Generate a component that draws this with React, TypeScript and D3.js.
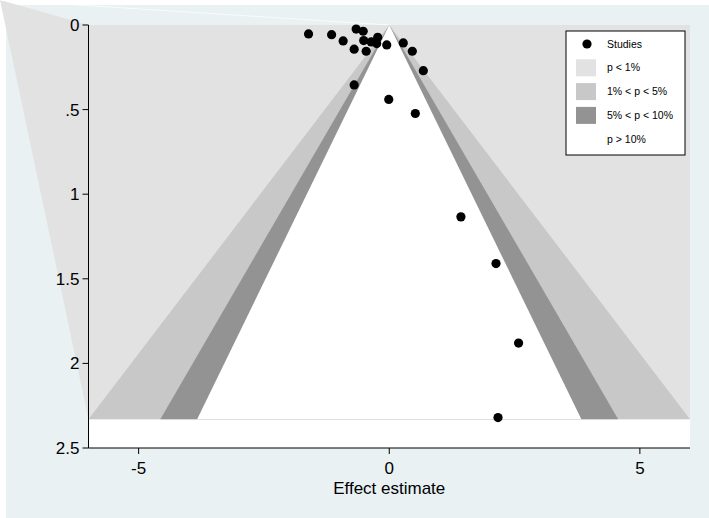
import React from "react";
import * as d3 from "d3";

// Study estimates (effect, standard error)
const effects = [-1.61, -1.15, -0.92, -0.66, -0.52, -0.51, -0.36, -0.23, -0.25, -0.7, -0.46, -0.05, 0.28, 0.46, 0.68, -0.7, -0.01, 0.52, 1.43, 2.13, 2.58, 2.17];
const stdErrors = [0.053, 0.057, 0.094, 0.024, 0.037, 0.092, 0.1, 0.073, 0.11, 0.143, 0.155, 0.118, 0.106, 0.155, 0.27, 0.354, 0.44, 0.523, 1.134, 1.41, 1.88, 2.32];

// Contour z-values (two-sided 1%, 5%, 10%) and max SE of contours
const contourZ = [2.576, 1.96, 1.645];
const contourFill = ["#c8c8c8", "#939393", "#ffffff"];
const maxSE = 2.33;

const xTicks = [-5, 0, 5];
const yTicks = [0, 0.5, 1, 1.5, 2, 2.5];
const yTickLabels = ["0", ".5", "1", "1.5", "2", "2.5"];

const legendItems = [
  { label: "Studies", kind: "dot", color: "#000" },
  { label: "p < 1%", kind: "box", color: "#e2e2e2" },
  { label: "1% < p < 5%", kind: "box", color: "#c8c8c8" },
  { label: "5% < p < 10%", kind: "box", color: "#939393" },
  { label: "p > 10%", kind: "box", color: "#ffffff" },
];

const W = 709;
const H = 518;
const FONT = "'Liberation Sans', Arial, Helvetica, sans-serif";

export default function App() {
  const x = d3.scaleLinear().domain([-6, 6]).range([88.5, 690]);
  const y = d3.scaleLinear().domain([0, 2.5]).range([25, 448]);
  const [x0, x1] = x.range();
  const [y0, y1] = y.range();
  const clamp = (v: number) => Math.max(-6, Math.min(6, v));

  const tri = (z: number) =>
    d3.line()([
      [x(0), y(0)],
      [x(clamp(-z * maxSE)), y(maxSE)],
      [x(clamp(z * maxSE)), y(maxSE)],
    ] as [number, number][]) + "Z";

  // artifact polygon extending the p<1% area beyond the plot region
  const outer = d3.line()([
    [0, 0],
    [x0, y(0)],
    [x0, y(maxSE)],
  ] as [number, number][]) + "Z";

  const lx = 566, ly = 31;

  return (
    <div style={{ position: "fixed", left: 0, top: 0 }}>
      <svg width={W} height={H} style={{ display: "block", fontFamily: FONT }}>
        <rect x={0} y={0} width={W} height={H} fill="#ffffff" />
        <rect x={6} y={5} width={W - 6} height={H - 5} fill="#e9f1f3" />
        {/* plot region */}
        <rect x={x0} y={y0} width={x1 - x0} height={y1 - y0} fill="#ffffff" />
        <rect x={x0} y={y(0)} width={x1 - x0} height={y(maxSE) - y(0)} fill="#e2e2e2" />
        <path d={outer} fill="#e2e2e2" />
        <line x1={0} y1={0} x2={x(0)} y2={y(0)} stroke="#ffffff" strokeOpacity={0.7} strokeWidth={1} />
        {contourZ.map((z, i) => (
          <path key={i} d={tri(z)} fill={contourFill[i]} />
        ))}
        {/* points */}
        {effects.map((e, i) => (
          <circle key={i} cx={x(e)} cy={y(stdErrors[i])} r={4.6} fill="#000" />
        ))}
        {/* axes */}
        <line x1={x0} y1={y0} x2={x0} y2={y1} stroke="#000" strokeWidth={1} />
        <line x1={x0} y1={y1} x2={x1} y2={y1} stroke="#000" strokeWidth={1} />
        {yTicks.map((t, i) => (
          <g key={i}>
            <line x1={x0 - 6} x2={x0} y1={y(t)} y2={y(t)} stroke="#000" />
            <text x={x0 - 9} y={y(t)} dy="0.35em" textAnchor="end" fontSize={17} fill="#000">
              {yTickLabels[i]}
            </text>
          </g>
        ))}
        {xTicks.map((t, i) => (
          <g key={i}>
            <line x1={x(t)} x2={x(t)} y1={y1} y2={y1 + 6} stroke="#000" />
            <text x={x(t)} y={474} textAnchor="middle" fontSize={17} fill="#000">
              {t}
            </text>
          </g>
        ))}
        <text x={x(0)} y={494} textAnchor="middle" fontSize={17} fill="#000">
          Effect estimate
        </text>
        {/* legend */}
        <rect x={lx} y={ly} width={119} height={124} fill="#ffffff" stroke="#000" strokeWidth={1} />
        {legendItems.map((it, i) => {
          const cy = ly + 13 + i * 23.8;
          return (
            <g key={i}>
              {it.kind === "dot" ? (
                <circle cx={lx + 21} cy={cy} r={4.6} fill={it.color} />
              ) : (
                <rect x={lx + 10} y={cy - 8.5} width={20} height={17} fill={it.color} />
              )}
              <text x={lx + 41} y={cy} dy="0.35em" fontSize={10.5} fill="#000">
                {it.label}
              </text>
            </g>
          );
        })}
      </svg>
    </div>
  );
}
